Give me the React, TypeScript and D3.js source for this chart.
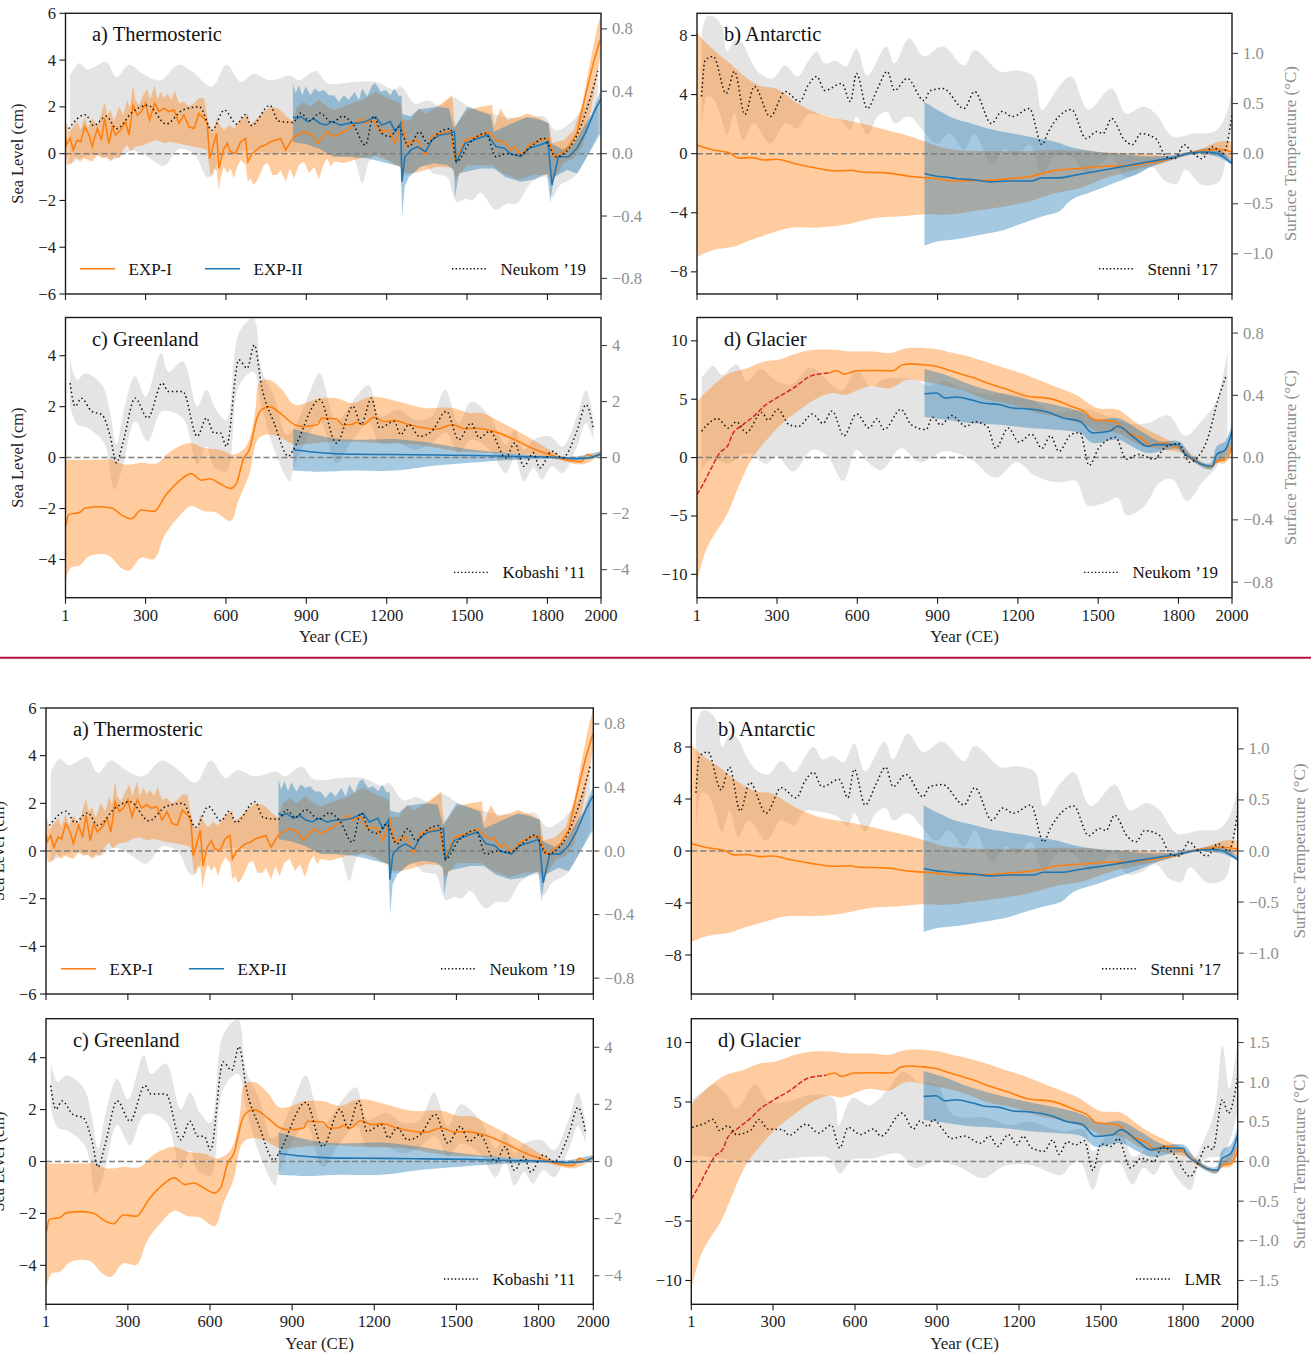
import * as d3 from "d3";

type Pt = [number, number];

const xTicks = [1, 300, 600, 900, 1200, 1500, 1800, 2000];

// a) Thermosteric, cm
const thermoExp1: Pt[] = [[1,.73],[5,.37],[18,.66],[30,.16],[45,.58],[58,.51],[73,1.15],[89,.8],[101,.3],[120,1.08],[135,.58],[147,1.51],[163,.44],[176,1.15],[188,.8],[207,1.01],[225,1.37],[238,.8],[253,2.07],[269,1.65],[284,1.8],[300,2.15],[315,1.44],[334,2.15],[350,1.8],[369,1.94],[387,1.8],[406,1.87],[425,1.3],[443,1.65],[462,1.15],[481,1.08],[499,1.72],[518,1.51],[530,1.3],[539,-.2],[555,.44],[565,.87],[574,-.63],[590,.16],[605,.44],[617,.09],[636,.01],[655,.51],[673,.65],[682,-.34],[698,.01],[729,.3],[748,.37],[767,.51],[804,.65],[823,.16],[848,.65],[866,.8],[891,.94],[922,.8],[941,.44],[978,.94],[1003,.73],[1028,.87],[1051,1.0],[1074,1.22],[1105,1.5],[1120,1.3],[1151,1.44],[1175,.94],[1206,1.0],[1232,.44],[1257,1.3],[1275,.37],[1291,.5],[1314,.58],[1345,-.06],[1368,.73],[1399,.87],[1438,.94],[1458,-.34],[1492,.58],[1539,.73],[1577,.94],[1608,.58],[1639,.5],[1662,.16],[1678,.3],[1701,-.06],[1732,.37],[1771,.58],[1802,.65],[1825,-.13],[1841,-.06],[1879,.3],[1910,.87],[1941,2.44],[1972,3.9],[1998,4.9]];
const thermoExp1Hi: Pt[] = [[1,1.08],[5,1.37],[14,.94],[30,1.15],[45,1.37],[58,1.01],[73,1.58],[85,1.08],[101,1.51],[120,1.15],[135,1.72],[147,2.21],[157,1.65],[170,1.87],[182,1.37],[201,2.01],[217,1.65],[232,2.29],[242,1.94],[253,2.93],[262,2.29],[275,2.08],[291,2.5],[306,2.79],[316,2.29],[334,2.93],[344,2.29],[356,2.65],[369,2.37],[381,2.58],[396,2.29],[408,2.69],[425,2.15],[443,2.22],[462,2.0],[481,2.15],[499,2.37],[518,2.37],[528,1.72],[538,1.15],[552,.87],[565,1.51],[578,1.22],[592,1.0],[611,1.22],[630,1.08],[648,1.37],[667,1.58],[682,1.72],[687,1.22],[717,1.51],[742,1.8],[767,2.01],[792,1.94],[810,1.79],[827,1.58],[849,1.37],[866,2.0],[891,2.2],[916,2.0],[947,2.3],[978,2.0],[1003,1.87],[1053,2.08],[1109,2.3],[1158,2.65],[1208,2.36],[1252,2.15],[1258,1.44],[1289,1.44],[1320,1.94],[1345,1.7],[1389,2.0],[1445,2.5],[1451,1.5],[1457,1.15],[1501,1.87],[1550,2.0],[1594,2.08],[1600,1.15],[1625,1.94],[1650,1.44],[1693,1.58],[1725,1.72],[1774,1.5],[1805,1.3],[1818,.44],[1861,.58],[1899,1.0],[1930,2.15],[1961,4.0],[1986,5.4],[1998,5.9]];
const thermoExp1Lo: Pt[] = [[1,.01],[8,-.48],[23,-.41],[39,-.13],[55,-.34],[70,-.2],[85,-.27],[101,-.34],[120,-.06],[138,-.2],[157,-.13],[170,-.34],[182,-.13],[201,-.2],[219,.23],[232,.37],[244,.09],[263,.3],[294,.37],[319,.51],[344,.58],[369,.44],[393,.51],[418,.44],[449,.37],[481,.3],[512,.23],[530,.15],[539,-.7],[544,-.98],[555,-.63],[565,-.7],[573,-1.55],[580,-1.05],[592,-.56],[605,-.84],[617,-.63],[630,-1.05],[642,-.56],[655,-.27],[673,-.48],[682,-1.2],[692,-1.05],[702,-1.34],[714,-1.2],[729,-.84],[742,-.48],[757,-.41],[773,-.91],[792,-.91],[804,-.7],[823,-1.2],[839,-.63],[854,-1.06],[872,-.48],[891,-.34],[910,-.84],[929,-.56],[947,-1.09],[963,-.48],[978,-.2],[991,-.56],[1003,-.34],[1040,-.4],[1100,-.2],[1158,-.1],[1208,-.3],[1252,-.6],[1258,-.8],[1300,-.84],[1345,-.7],[1389,-.55],[1445,-.6],[1457,-1.1],[1501,-.5],[1594,-.5],[1625,-.8],[1693,-1.1],[1750,-.9],[1805,-.9],[1818,-1.2],[1861,-.4],[1899,-.2],[1930,.3],[1961,1.8],[1986,3.4],[1998,4.2]];
const thermoExp2: Pt[] = [[850,1.58],[865,1.5],[880,1.58],[904,1.37],[927,1.5],[950,1.3],[973,1.22],[997,1.37],[1028,1.22],[1059,1.3],[1090,1.3],[1120,1.37],[1159,1.58],[1182,1.22],[1213,1.37],[1232,.94],[1252,1.3],[1257,-1.2],[1268,-.13],[1291,.16],[1314,.3],[1345,.08],[1368,.58],[1399,.8],[1438,.87],[1453,.94],[1459,-.41],[1492,.44],[1539,.65],[1577,.8],[1608,.3],[1639,.23],[1662,0],[1701,-.13],[1732,.23],[1771,.37],[1802,.5],[1817,-1.34],[1841,-.13],[1879,-.13],[1910,.23],[1941,.87],[1972,1.72],[1998,2.3]];
const thermoExp2Hi: Pt[] = [[850,3.0],[860,2.58],[872,2.94],[885,2.5],[897,2.87],[916,2.5],[931,2.79],[947,2.65],[966,2.72],[984,2.5],[1003,2.5],[1022,2.22],[1040,2.5],[1059,2.29],[1080,2.65],[1096,2.29],[1109,2.79],[1127,2.44],[1146,2.94],[1158,3.01],[1177,2.65],[1196,2.72],[1214,2.51],[1229,2.79],[1246,2.44],[1256,2.5],[1258,1.7],[1289,1.6],[1320,1.9],[1389,2.0],[1432,1.94],[1451,1.08],[1501,2.0],[1550,1.8],[1588,1.65],[1600,.94],[1650,1.2],[1725,1.58],[1774,1.44],[1805,1.3],[1811,.44],[1861,.16],[1899,.44],[1936,1.15],[1967,1.72],[1998,2.7]];
const thermoExp2Lo: Pt[] = [[850,.5],[900,.4],[950,.2],[1003,-.13],[1065,-.13],[1127,-.2],[1177,-.34],[1227,-.48],[1252,-.55],[1258,-2.7],[1267,-1.41],[1283,-1.0],[1326,-.55],[1376,-.41],[1426,-.48],[1451,-.7],[1455,-1.85],[1470,-.84],[1550,-.63],[1600,-.63],[1644,-1.0],[1700,-1.2],[1749,-1.1],[1799,-.85],[1811,-2.1],[1824,-1.0],[1874,-.7],[1911,-.85],[1948,-.13],[1998,.87]];
const neukomA: Pt[] = [[13,.16],[75,.25],[106,.18],[153,.24],[191,.16],[253,.27],[308,.31],[377,.19],[439,.28],[501,.3],[548,.15],[594,.28],[640,.19],[671,.25],[695,.18],[764,.31],[795,.21],[850,.2],[880,.26],[911,.21],[950,.26],[997,.2],[1035,.24],[1074,.19],[1120,.055],[1151,.24],[1182,.13],[1213,.11],[1244,.17],[1283,.045],[1322,.14],[1353,.066],[1399,.14],[1438,.16],[1461,-.05],[1508,.066],[1570,.13],[1608,-.02],[1647,0],[1693,-.01],[1739,.045],[1786,.1],[1832,-.02],[1894,.066],[1957,.34],[1988,.53]];
const neukomAHi: Pt[] = [[18,.5],[52,.58],[83,.54],[122,.57],[153,.59],[191,.49],[238,.57],[292,.51],[354,.47],[424,.57],[478,.52],[548,.43],[602,.57],[656,.46],[702,.51],[764,.47],[842,.5],[873,.47],[935,.53],[981,.45],[1074,.46],[1159,.46],[1229,.41],[1252,.43],[1306,.32],[1353,.34],[1399,.31],[1446,.36],[1508,.3],[1585,.26],[1662,.23],[1739,.23],[1786,.24],[1832,.15],[1894,.21],[1957,.36],[1988,.56]];
const neukomALo: Pt[] = [[18,-.07],[70,-.02],[120,-.01],[175,-.04],[207,-.02],[250,.02],[306,-.02],[368,-.08],[425,.03],[480,0],[530,-.15],[550,-.14],[580,-.02],[640,.01],[700,.02],[770,0],[850,.01],[930,0],[1040,-.02],[1075,-.03],[1109,-.19],[1135,-.05],[1170,0],[1220,-.06],[1250,-.08],[1275,-.14],[1345,-.08],[1376,-.13],[1426,-.15],[1445,-.25],[1463,-.31],[1494,-.29],[1519,-.3],[1550,-.25],[1606,-.36],[1650,-.32],[1687,-.32],[1737,-.19],[1799,-.15],[1818,-.28],[1849,-.2],[1899,-.15],[1948,-.02],[1988,.13]];

// b) Antarctic, cm
const antarcticExp1: Pt[] = [[1,.58],[31,.4],[62,.25],[125,.02],[157,-.3],[204,-.27],[251,-.43],[298,-.38],[361,-.65],[440,-.95],[519,-1.17],[582,-1.13],[613,-1.24],[708,-1.3],[802,-1.55],[897,-1.7],[960,-1.85],[1070,-1.82],[1164,-1.7],[1243,-1.55],[1337,-1.15],[1432,-1.0],[1526,-.85],[1605,-.83],[1684,-.65],[1762,-.38],[1810,-.09],[1857,.11],[1904,.25],[1951,.29],[2000,.13]];
const antarcticExp1Hi: Pt[] = [[1,8.2],[31,7.55],[78,6.8],[125,6.1],[173,5.3],[235,4.6],[298,4.4],[377,3.4],[456,2.7],[519,2.4],[613,2.05],[708,1.6],[802,1.15],[849,.85],[928,.36],[1023,.2],[1133,.18],[1243,.18],[1322,.25],[1400,.2],[1463,.2],[1526,.07],[1636,.02],[1715,-.09],[1794,-.2],[1841,.02],[1904,.47],[1951,.81],[2000,.81]];
const antarcticExp1Lo: Pt[] = [[1,-7],[31,-6.73],[78,-6.46],[141,-6.28],[188,-5.94],[235,-5.65],[298,-5.27],[345,-5.04],[456,-5.0],[550,-4.82],[660,-4.37],[755,-4.26],[849,-4.1],[928,-4.14],[1023,-3.92],[1133,-3.63],[1243,-3.24],[1337,-2.68],[1432,-2.34],[1526,-1.67],[1636,-1.1],[1715,-.77],[1794,-.32],[1857,-.02],[1904,.02],[1951,-.02],[2000,-.43]];
const antarcticExp2: Pt[] = [[851,-1.35],[897,-1.53],[928,-1.58],[975,-1.7],[1038,-1.78],[1093,-1.91],[1164,-1.85],[1251,-1.85],[1290,-1.64],[1353,-1.64],[1416,-1.44],[1479,-1.24],[1558,-.99],[1636,-.72],[1715,-.47],[1778,-.27],[1841,.02],[1904,.11],[1943,.02],[1975,-.31],[2000,-.65]];
const antarcticExp2Hi: Pt[] = [[851,3.5],[912,2.84],[960,2.39],[1023,2.05],[1086,1.71],[1180,1.37],[1259,1.1],[1337,.81],[1416,.36],[1495,.13],[1589,-.02],[1684,-.2],[1778,-.09],[1841,.13],[1904,.36],[1951,.29],[2000,-.43]];
const antarcticExp2Lo: Pt[] = [[851,-6.24],[897,-5.95],[975,-5.77],[1070,-5.45],[1149,-5.16],[1212,-4.75],[1290,-4.26],[1353,-3.92],[1400,-3.13],[1479,-2.57],[1558,-2.0],[1636,-1.44],[1715,-.77],[1794,-.32],[1857,-.02],[1904,-.05],[1951,-.25],[2000,-.77]];
const stenni: Pt[] = [[18,.57],[31,.93],[62,.97],[110,.6],[141,.82],[180,.39],[215,.67],[275,.37],[330,.62],[385,.52],[416,.68],[448,.77],[479,.63],[542,.7],[574,.52],[597,.8],[637,.45],[676,.65],[712,.82],[739,.63],[786,.75],[849,.53],[873,.63],[920,.65],[999,.45],[1038,.62],[1101,.3],[1140,.42],[1180,.37],[1243,.45],[1290,.09],[1314,.22],[1400,.44],[1455,.15],[1495,.22],[1518,.2],[1550,.35],[1597,.14],[1628,.09],[1660,.2],[1715,.15],[1754,-.03],[1786,-.05],[1822,.09],[1849,.02],[1888,-.05],[1927,.07],[1967,0],[2000,.39]];
const stenniHi: Pt[] = [[18,1.2],[39,1.37],[62,1.37],[94,1.27],[114,1.02],[141,1.13],[165,1.12],[204,.92],[235,.8],[283,.75],[330,.88],[377,.77],[416,.92],[448,1.02],[479,.9],[519,.93],[558,.87],[597,1.05],[637,.78],[708,1.07],[739,.9],[794,1.15],[849,.97],[920,1.07],[999,.88],[1038,1.03],[1133,.82],[1196,.83],[1259,.77],[1290,.44],[1353,.67],[1400,.77],[1463,.44],[1550,.65],[1605,.4],[1668,.47],[1715,.4],[1778,.17],[1857,.2],[1935,.22],[1975,.37],[2000,.63]];
const stenniLo: Pt[] = [[18,.2],[39,.57],[62,.55],[86,.4],[114,.19],[141,.4],[173,.14],[212,.3],[275,.1],[330,.3],[377,.25],[416,.39],[480,.38],[534,.34],[574,.24],[597,.37],[637,.19],[676,.37],[712,.42],[739,.3],[794,.37],[849,.22],[897,.1],[944,.2],[999,.04],[1038,.2],[1101,-.11],[1149,.04],[1196,-.03],[1243,.09],[1290,-.2],[1337,-.03],[1400,-.03],[1455,-.2],[1495,-.13],[1550,-.03],[1597,-.23],[1652,-.2],[1699,-.13],[1754,-.28],[1794,-.3],[1825,-.16],[1888,-.31],[1951,-.28],[1979,-.03],[2000,.27]];

// c) Greenland, cm
const greenlandExp1: Pt[] = [[3,-2.68],[13,-2.23],[52,-2.16],[75,-1.98],[130,-1.93],[176,-1.99],[207,-2.23],[246,-2.4],[284,-2.06],[331,-2.11],[377,-1.45],[424,-.93],[470,-.63],[509,-.89],[540,-.83],[579,-1.03],[617,-1.21],[640,-.99],[664,-.08],[687,.31],[718,1.62],[741,1.94],[764,1.99],[810,1.68],[857,1.29],[888,1.22],[942,1.29],[957,1.55],[1012,1.52],[1035,1.29],[1066,1.29],[1089,1.39],[1112,1.29],[1151,1.58],[1190,1.42],[1228,1.46],[1283,1.29],[1384,1.12],[1446,1.29],[1492,1.13],[1531,1.15],[1600,1.03],[1678,.7],[1755,.31],[1817,.09],[1864,-.08],[1925,-.16],[1949,.12],[1972,.05],[1998,.18]];
const greenlandExp1Hi: Pt[] = [[1,-.08],[68,-.08],[130,-.08],[176,-.08],[222,-.27],[284,-.21],[346,-.21],[377,.12],[424,.44],[470,.57],[517,.38],[579,.31],[625,.12],[664,.31],[687,.7],[710,1.88],[726,2.98],[764,3.05],[810,2.66],[857,2.07],[950,2.33],[1012,2.33],[1074,2.14],[1143,2.4],[1244,2.2],[1337,1.95],[1446,1.95],[1508,1.75],[1554,1.75],[1632,1.36],[1724,.83],[1817,.25],[1864,0],[1925,-.08],[1998,.18]];
const greenlandExp1Lo: Pt[] = [[1,-4.9],[21,-4.31],[52,-4.25],[91,-3.86],[160,-3.83],[207,-4.31],[238,-4.44],[284,-3.92],[331,-3.99],[370,-3.07],[416,-2.42],[470,-1.9],[517,-2.1],[563,-2.16],[617,-2.49],[648,-1.64],[687,-.66],[718,.7],[749,.9],[795,.83],[857,.51],[935,.57],[1043,.64],[1151,.57],[1306,.51],[1461,.25],[1616,.18],[1771,.08],[1864,-.14],[1925,-.27],[1972,-.08],[1998,.12]];
const greenlandExp2: Pt[] = [[851,.31],[935,.21],[997,.16],[1089,.13],[1228,.12],[1384,.1],[1539,.08],[1693,.04],[1832,.01],[1910,-.04],[1957,-.01],[1998,.14]];
const greenlandExp2Hi: Pt[] = [[851,1.12],[935,.9],[997,.77],[1074,.7],[1228,.73],[1368,.57],[1477,.38],[1616,.21],[1771,.08],[1894,.03],[1998,.25]];
const greenlandExp2Lo: Pt[] = [[851,-.52],[950,-.56],[1074,-.51],[1228,-.51],[1384,-.31],[1539,-.18],[1693,-.08],[1832,-.05],[1925,-.1],[1998,.05]];
const kobashi: Pt[] = [[18,2.66],[37,1.83],[60,2.12],[99,1.65],[137,1.53],[168,.76],[191,-.19],[215,.52],[261,2.12],[308,1.41],[362,2.66],[385,2.36],[439,2.36],[493,.76],[527,1.41],[555,.88],[579,.88],[602,.4],[648,3.49],[679,3.19],[706,4.02],[733,2.54],[780,1.23],[834,.05],[851,.28],[950,2.07],[1012,.52],[1074,1.83],[1105,1.18],[1143,2.12],[1174,1.06],[1228,1.29],[1252,.82],[1283,1.18],[1322,.76],[1368,.94],[1423,1.65],[1469,.64],[1515,1.23],[1546,.7],[1585,.94],[1644,-.01],[1678,.52],[1712,-.31],[1748,.17],[1771,-.37],[1817,.23],[1856,-.01],[1910,.94],[1944,1.89],[1972,1.0]];
const kobashiHi: Pt[] = [[18,3.49],[44,2.78],[75,3.01],[137,2.6],[168,1.59],[191,.46],[222,1.83],[261,2.9],[300,2.18],[358,3.73],[385,3.07],[439,3.43],[493,1.83],[527,2.42],[563,1.71],[602,1.35],[648,4.44],[702,4.97],[733,3.13],[780,2.18],[826,.82],[851,1.0],[911,2.3],[950,3.01],[1012,1.29],[1081,2.12],[1133,2.6],[1174,1.47],[1244,1.71],[1306,1.35],[1368,1.47],[1418,2.42],[1469,1.23],[1515,2.0],[1585,1.47],[1644,.46],[1678,1.0],[1712,.28],[1748,.64],[1809,.76],[1856,.4],[1910,1.47],[1944,2.42],[1972,1.35]];
const kobashiLo: Pt[] = [[18,1.89],[44,1.18],[83,1.06],[145,.52],[183,-1.14],[215,-.31],[261,1.29],[308,.58],[362,1.65],[439,1.41],[493,-.25],[527,.4],[555,-.31],[602,-.49],[648,2.54],[702,3.07],[733,1.83],[780,.28],[838,-.84],[851,-.43],[950,1.29],[1012,-.19],[1074,.64],[1135,1.23],[1174,.52],[1244,.52],[1306,.28],[1368,.52],[1423,.88],[1469,.17],[1515,.64],[1585,.28],[1644,-.55],[1678,-.01],[1712,-.84],[1748,-.37],[1779,-.78],[1817,-.31],[1856,-.55],[1910,.4],[1944,1.23],[1972,.64]];

// d) Glacier, cm
const glacierRed: Pt[] = [[1,-3.16],[23,-2.31],[55,-.88],[86,.4],[118,1.11],[133,1.97],[173,2.82],[220,3.68],[251,4.39],[298,5.1],[361,5.95],[432,7.04],[495,7.24]];
const glacierExp1: Pt[] = [[495,7.24],[526,7.44],[550,7.15],[597,7.44],[660,7.46],[731,7.44],[770,7.95],[802,8.03],[849,7.95],[897,7.81],[936,7.52],[975,7.24],[1038,6.81],[1086,6.38],[1164,5.81],[1227,5.3],[1329,5.01],[1400,4.39],[1447,3.96],[1486,3.25],[1558,3.1],[1605,2.25],[1668,1.54],[1699,.97],[1731,1.25],[1802,.83],[1841,-.03],[1888,-.6],[1920,-.8],[1943,-.31],[1975,-.17],[2000,.97]];
const glacierExp1Hi: Pt[] = [[1,4.81],[31,5.53],[78,6.52],[125,7.24],[188,7.66],[251,8.23],[314,8.43],[377,8.95],[440,9.23],[519,9.23],[566,9.09],[660,9.09],[723,8.95],[786,9.37],[897,9.29],[960,8.95],[1038,8.52],[1133,7.81],[1211,7.24],[1322,6.24],[1416,5.38],[1495,4.25],[1573,4.1],[1652,2.82],[1747,1.68],[1810,.97],[1857,.11],[1920,-.74],[1943,-.03],[2000,1.4]];
const glacierExp1Lo: Pt[] = [[1,-10.7],[31,-8.15],[62,-6.72],[110,-5.01],[157,-2.45],[204,-.17],[251,1.25],[314,2.82],[377,3.96],[440,4.96],[503,5.53],[550,5.38],[645,6.1],[723,5.95],[786,6.67],[849,6.52],[928,6.15],[1007,5.67],[1086,4.96],[1180,4.53],[1274,3.82],[1369,3.39],[1463,2.68],[1495,2.25],[1573,2.11],[1652,1.11],[1747,.68],[1810,.4],[1857,-.31],[1920,-.97],[1943,-.51],[1975,-.46],[2000,.54]];
const glacierExp2: Pt[] = [[851,5.47],[897,5.53],[928,5.1],[968,5.19],[1023,4.96],[1070,4.67],[1133,4.53],[1180,4.25],[1243,4.16],[1322,3.82],[1369,3.39],[1432,3.11],[1479,2.11],[1542,2.25],[1573,2.68],[1636,1.68],[1684,.97],[1715,1.11],[1802,1.11],[1810,.68],[1857,-.17],[1888,-.6],[1927,-.74],[1943,.26],[1975,.68],[2000,2.25]];
const glacierExp2Hi: Pt[] = [[851,7.58],[928,7.09],[1023,6.24],[1133,5.53],[1243,4.96],[1337,4.53],[1432,3.96],[1495,3.25],[1573,3.39],[1652,2.39],[1731,1.4],[1802,1.4],[1857,-.03],[1920,-.46],[1943,.97],[1975,1.4],[2000,2.96]];
const glacierExp2Lo: Pt[] = [[851,3.48],[928,3.25],[1023,2.96],[1133,2.82],[1243,2.54],[1337,2.39],[1432,2.11],[1479,1.25],[1573,1.54],[1636,.83],[1684,.4],[1802,.74],[1857,-.4],[1920,-1.03],[1943,-.46],[1975,-.03],[2000,1.4]];
const neukomD: Pt[] = [[18,.17],[78,.25],[118,.19],[149,.23],[185,.16],[243,.29],[267,.24],[303,.31],[346,.21],[380,.2],[432,.28],[472,.22],[506,.3],[550,.14],[597,.28],[645,.19],[673,.25],[700,.18],[763,.31],[802,.21],[857,.18],[881,.26],[912,.21],[952,.27],[1007,.2],[1038,.23],[1086,.2],[1117,.06],[1164,.19],[1204,.1],[1251,.15],[1290,.06],[1322,.14],[1353,.04],[1400,.15],[1432,.16],[1466,-.05],[1502,.06],[1565,.13],[1605,-.01],[1652,.02],[1707,-.01],[1754,.07],[1802,.09],[1841,-.03],[1904,.1],[1951,.39],[1979,.53]];
const neukomDHi: Pt[] = [[18,.51],[62,.59],[94,.53],[149,.6],[188,.49],[239,.57],[291,.5],[354,.47],[424,.58],[472,.52],[542,.43],[597,.56],[653,.45],[692,.5],[818,.5],[865,.46],[928,.49],[991,.44],[1086,.41],[1180,.41],[1251,.37],[1337,.29],[1400,.3],[1463,.31],[1526,.27],[1605,.22],[1684,.22],[1762,.27],[1825,.14],[1888,.24],[1943,.37],[1983,.69]];
const neukomDLo: Pt[] = [[18,-.07],[62,-.01],[118,-.04],[188,.03],[259,-.04],[298,.01],[361,-.09],[432,.05],[487,.01],[547,-.15],[597,.05],[645,-.04],[692,-.08],[763,.06],[834,-.03],[928,.04],[1023,-.01],[1117,-.13],[1196,-.03],[1266,-.12],[1353,-.16],[1416,-.15],[1463,-.31],[1526,-.29],[1573,-.26],[1605,-.37],[1668,-.32],[1731,-.16],[1778,-.14],[1833,-.28],[1888,-.16],[1943,-.06],[1983,.1]];
const lmr: Pt[] = [[4,.43],[50,.48],[81,.53],[104,.39],[135,.45],[166,.34],[220,.4],[248,.53],[282,.41],[336,.4],[359,.33],[421,.47],[467,.36],[513,.46],[544,.17],[575,.43],[621,.34],[667,.41],[695,.32],[772,.61],[814,.41],[837,.51],[868,.44],[886,.53],[922,.4],[952,.29],[999,.32],[1061,.23],[1092,.32],[1122,.19],[1161,.34],[1192,.21],[1215,.32],[1246,.17],[1292,.13],[1323,.27],[1346,.09],[1377,.25],[1408,.21],[1439,.26],[1470,-.11],[1500,.22],[1539,.19],[1562,.29],[1608,-.08],[1647,.04],[1693,0],[1724,.19],[1762,.11],[1827,-.19],[1855,-.02],[1886,.19],[1909,.15],[1944,.78],[1966,.61],[2000,1.07]];
const lmrHi: Pt[] = [[4,.78],[50,.9],[81,.97],[127,.86],[166,.67],[235,.97],[282,.76],[359,.76],[436,.84],[521,.8],[541,.46],[590,.8],[652,.71],[714,.88],[775,1.13],[837,.99],[899,.97],[960,.59],[1083,.55],[1161,.46],[1238,.5],[1315,.42],[1361,.38],[1439,.4],[1470,.13],[1531,.34],[1577,.34],[1616,.06],[1670,.17],[1701,.19],[1778,.21],[1832,.02],[1886,.34],[1917,.67],[1944,1.47],[1970,.92],[2000,1.53]];
const lmrLo: Pt[] = [[4,.08],[66,.06],[143,.02],[220,0],[312,.02],[436,.06],[505,.04],[544,-.15],[590,.02],[667,.04],[760,.1],[814,-.08],[899,0],[976,-.06],[1068,-.21],[1145,-.06],[1238,-.04],[1353,-.17],[1392,-.04],[1423,0],[1470,-.36],[1507,-.04],[1562,0],[1616,-.29],[1655,-.08],[1693,-.17],[1732,.02],[1778,-.21],[1827,-.36],[1855,-.08],[1886,.04],[1944,.08],[2000,.63]];

const ORANGE = "#ff7f0e";
const BLUE = "#1f77b4";
const GRAY_TEXT = "#8f8f8f";
const SERIF = "'Liberation Serif', serif";

const fmt1 = d3.format(".1f");
const fmt0 = d3.format("d");

interface PanelProps {
  box: [number, number, number, number];
  title: string;
  titleX: number;
  yMax: number;
  yTicks: number[];
  tMax: number;
  tTicks: number[];
  tFormat: (n: number) => string;
  series: {
    exp1: Pt[]; exp1Hi: Pt[]; exp1Lo: Pt[];
    exp2: Pt[]; exp2Hi: Pt[]; exp2Lo: Pt[];
    temp: Pt[]; tempHi: Pt[]; tempLo: Pt[];
    red?: Pt[];
  };
  tempName: string;
  legendX: number;
  jagged?: boolean;
  exp1X?: number;
  exp2X?: number;
  xLabels?: boolean;
  leftLabel?: number;
  rightLabel?: number;
}

function Panel(p: PanelProps) {
  const [x0, x1, y0, y1] = p.box;
  const x = d3.scaleLinear().domain([1, 2000]).range([x0, x1]);
  const y = d3.scaleLinear().domain([-p.yMax, p.yMax]).range([y1, y0]);
  const t = d3.scaleLinear().domain([-p.tMax, p.tMax]).range([y1, y0]);
  const smooth = d3.curveCatmullRom.alpha(0.5);
  const lineCurve = p.jagged ? d3.curveLinear : d3.curveMonotoneX;
  const bandCurve = p.jagged ? d3.curveLinear : smooth;

  const lineY = d3.line<Pt>().x((d) => x(d[0])).y((d) => y(d[1])).curve(lineCurve);
  const lineT = d3.line<Pt>().x((d) => x(d[0])).y((d) => t(d[1])).curve(d3.curveMonotoneX);
  const edgeY = d3.line<Pt>().x((d) => x(d[0])).y((d) => y(d[1])).curve(bandCurve);
  const edgeT = d3.line<Pt>().x((d) => x(d[0])).y((d) => t(d[1])).curve(smooth);
  // upper edge, then lower edge walked back, so each edge keeps its own curve
  const band = (edge: d3.Line<Pt>, hi: Pt[], lo: Pt[]) =>
    edge(hi) + "L" + edge([...lo].reverse())!.slice(1) + "Z";

  const clipId = `clip-${Math.round(x0)}-${Math.round(y0)}`;
  const s = p.series;
  const ym = (y0 + y1) / 2;
  const legendY = y1 - 25.3;

  return (
    <g fontFamily={SERIF} fontSize={16.6}>
      <clipPath id={clipId}>
        <rect x={x0} y={y0} width={x1 - x0} height={y1 - y0} />
      </clipPath>
      <g clipPath={`url(#${clipId})`}>
        <path d={band(edgeT, s.tempHi, s.tempLo)} fill="#000" fillOpacity={0.105} />
        <path d={band(edgeY, s.exp1Hi, s.exp1Lo)} fill={ORANGE} fillOpacity={0.4} />
        <path d={band(edgeY, s.exp2Hi, s.exp2Lo)} fill={BLUE} fillOpacity={0.4} />
        <line x1={x0} x2={x1} y1={y(0)} y2={y(0)} stroke="#808080" strokeWidth={1.5} strokeDasharray="6 3" />
        {s.red && <path d={lineY(s.red)!} fill="none" stroke="#d62728" strokeWidth={1.5} strokeDasharray="5 2" />}
        <path d={lineY(s.exp1)!} fill="none" stroke={ORANGE} strokeWidth={1.6} />
        <path d={lineY(s.exp2)!} fill="none" stroke={BLUE} strokeWidth={1.6} />
        <path d={lineT(s.temp)!} fill="none" stroke="#111" strokeWidth={1.5} strokeDasharray="1.5 2.8" />
      </g>

      <rect x={x0} y={y0} width={x1 - x0} height={y1 - y0} fill="none" stroke="#1a1a1a" strokeWidth={1.4} />

      {xTicks.map((v) => (
        <g key={v}>
          <line x1={x(v)} x2={x(v)} y1={y1} y2={y1 + 6} stroke="#1a1a1a" strokeWidth={1.1} />
          {p.xLabels && (
            <text x={x(v)} y={y1 + 23} textAnchor="middle" fill="#222">{fmt0(v)}</text>
          )}
        </g>
      ))}
      {p.xLabels && (
        <text x={(x0 + x1) / 2} y={y1 + 44.5} textAnchor="middle" fontSize={17} fill="#222">Year (CE)</text>
      )}

      {p.yTicks.map((v) => (
        <g key={v}>
          <line x1={x0 - 6} x2={x0} y1={y(v)} y2={y(v)} stroke="#1a1a1a" strokeWidth={1.1} />
          <text x={x0 - 9.5} y={y(v) + 5.5} textAnchor="end" fill="#222">{fmt0(v)}</text>
        </g>
      ))}
      {p.tTicks.map((v) => (
        <g key={v}>
          <line x1={x1} x2={x1 + 6} y1={t(v)} y2={t(v)} stroke="#444" strokeWidth={1.1} />
          <text x={x1 + 11} y={t(v) + 5.5} fill={GRAY_TEXT}>{p.tFormat(v)}</text>
        </g>
      ))}

      {p.leftLabel !== undefined && (
        <text transform={`translate(${p.leftLabel},${ym}) rotate(-90)`} textAnchor="middle" fontSize={16.4} fill="#222">Sea Level (cm)</text>
      )}
      {p.rightLabel !== undefined && (
        <text transform={`translate(${p.rightLabel},${ym}) rotate(-90)`} textAnchor="middle" fontSize={17} fill={GRAY_TEXT}>Surface Temperature (°C)</text>
      )}

      <text x={p.titleX} y={y0 + 28} fontSize={20.5} fill="#111">{p.title}</text>

      {p.exp1X !== undefined && (
        <g>
          <line x1={p.exp1X} x2={p.exp1X + 35} y1={legendY} y2={legendY} stroke={ORANGE} strokeWidth={1.6} />
          <text x={p.exp1X + 48.5} y={legendY + 6} fontSize={17} fill="#111">EXP-I</text>
          <line x1={p.exp2X!} x2={p.exp2X! + 35} y1={legendY} y2={legendY} stroke={BLUE} strokeWidth={1.6} />
          <text x={p.exp2X! + 48.5} y={legendY + 6} fontSize={17} fill="#111">EXP-II</text>
        </g>
      )}
      <line x1={p.legendX} x2={p.legendX + 35} y1={legendY} y2={legendY} stroke="#111" strokeWidth={1.4} strokeDasharray="1.4 2.2" />
      <text x={p.legendX + 48.5} y={legendY + 6} fontSize={17} fill="#111">{p.tempName}</text>
    </g>
  );
}

const thermo = { exp1: thermoExp1, exp1Hi: thermoExp1Hi, exp1Lo: thermoExp1Lo, exp2: thermoExp2, exp2Hi: thermoExp2Hi, exp2Lo: thermoExp2Lo, temp: neukomA, tempHi: neukomAHi, tempLo: neukomALo };
const antarctic = { exp1: antarcticExp1, exp1Hi: antarcticExp1Hi, exp1Lo: antarcticExp1Lo, exp2: antarcticExp2, exp2Hi: antarcticExp2Hi, exp2Lo: antarcticExp2Lo, temp: stenni, tempHi: stenniHi, tempLo: stenniLo };
const greenland = { exp1: greenlandExp1, exp1Hi: greenlandExp1Hi, exp1Lo: greenlandExp1Lo, exp2: greenlandExp2, exp2Hi: greenlandExp2Hi, exp2Lo: greenlandExp2Lo, temp: kobashi, tempHi: kobashiHi, tempLo: kobashiLo };
const glacierModel = { exp1: glacierExp1, exp1Hi: glacierExp1Hi, exp1Lo: glacierExp1Lo, exp2: glacierExp2, exp2Hi: glacierExp2Hi, exp2Lo: glacierExp2Lo, red: glacierRed };

export default function App() {
  return (
    <svg width={1311} height={1355} style={{ position: "absolute", left: 0, top: 0, display: "block" }}>
      <rect width={1311} height={1355} fill="#fff" />

      {/* upper figure */}
      <Panel box={[65.5, 601, 13.3, 294]} title="a) Thermosteric" titleX={92} yMax={6} yTicks={[-6, -4, -2, 0, 2, 4, 6]} tMax={0.9} tTicks={[-0.8, -0.4, 0, 0.4, 0.8]} tFormat={fmt1} series={thermo} tempName="Neukom ’19" legendX={452} jagged exp1X={80} exp2X={205} leftLabel={23} />
      <Panel box={[697, 1232, 13.3, 294]} title="b) Antarctic" titleX={724} yMax={9.5} yTicks={[-8, -4, 0, 4, 8]} tMax={1.4} tTicks={[-1, -0.5, 0, 0.5, 1]} tFormat={fmt1} series={antarctic} tempName="Stenni ’17" legendX={1099} rightLabel={1296} />
      <Panel box={[65.5, 601, 317.5, 597.7]} title="c) Greenland" titleX={92} yMax={5.5} yTicks={[-4, -2, 0, 2, 4]} tMax={5} tTicks={[-4, -2, 0, 2, 4]} tFormat={fmt0} series={greenland} tempName="Kobashi ’11" legendX={454} xLabels leftLabel={23} />
      <Panel box={[697, 1232, 317.5, 597.7]} title="d) Glacier" titleX={724} yMax={12} yTicks={[-10, -5, 0, 5, 10]} tMax={0.9} tTicks={[-0.8, -0.4, 0, 0.4, 0.8]} tFormat={fmt1} series={{ ...glacierModel, temp: neukomD, tempHi: neukomDHi, tempLo: neukomDLo }} tempName="Neukom ’19" legendX={1084} xLabels rightLabel={1296} />

      <line x1={0} x2={1311} y1={657.7} y2={657.7} stroke="#b5123f" strokeWidth={2} />

      {/* lower figure */}
      <Panel box={[46, 593.3, 708, 994]} title="a) Thermosteric" titleX={73} yMax={6} yTicks={[-6, -4, -2, 0, 2, 4, 6]} tMax={0.9} tTicks={[-0.8, -0.4, 0, 0.4, 0.8]} tFormat={fmt1} series={thermo} tempName="Neukom ’19" legendX={441} jagged exp1X={61} exp2X={189} leftLabel={4} />
      <Panel box={[691.3, 1237.7, 708, 994]} title="b) Antarctic" titleX={718} yMax={11} yTicks={[-8, -4, 0, 4, 8]} tMax={1.4} tTicks={[-1, -0.5, 0, 0.5, 1]} tFormat={fmt1} series={antarctic} tempName="Stenni ’17" legendX={1102} rightLabel={1304.5} />
      <Panel box={[46, 593.3, 1018.7, 1304.3]} title="c) Greenland" titleX={73} yMax={5.5} yTicks={[-4, -2, 0, 2, 4]} tMax={5} tTicks={[-4, -2, 0, 2, 4]} tFormat={fmt0} series={greenland} tempName="Kobashi ’11" legendX={444} xLabels leftLabel={4} />
      <Panel box={[691.3, 1237.7, 1018.7, 1304.3]} title="d) Glacier" titleX={718} yMax={12} yTicks={[-10, -5, 0, 5, 10]} tMax={1.8} tTicks={[-1.5, -1, -0.5, 0, 0.5, 1, 1.5]} tFormat={fmt1} series={{ ...glacierModel, temp: lmr, tempHi: lmrHi, tempLo: lmrLo }} tempName="LMR" legendX={1136} xLabels rightLabel={1304.5} />
    </svg>
  );
}
